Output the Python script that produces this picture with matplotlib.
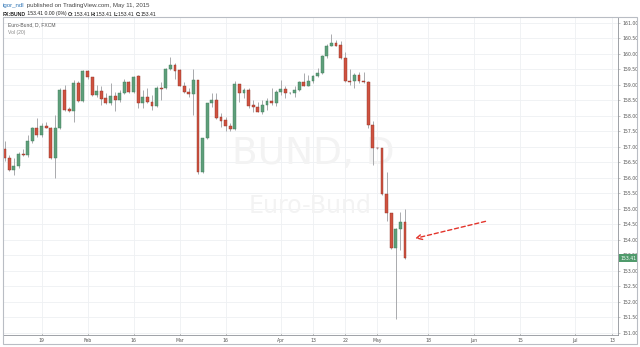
import matplotlib.pyplot as plt
import pandas as pd
import numpy as np
from matplotlib.patches import Rectangle

# daily OHLC, Euro-Bund, 7 Jan 2015 - 11 May 2015
o = [156.94, 156.65, 156.26, 156.39, 156.78, 156.74, 157.19, 157.60, 157.39, 157.68,
     157.62, 156.65, 157.60, 158.84, 158.21, 158.16, 159.07, 158.48, 159.46, 159.24,
     158.68, 158.81, 158.57, 158.41, 158.65, 158.52, 158.73, 159.09, 158.78, 159.29,
     158.41, 158.60, 158.46, 158.33, 158.89, 158.89, 159.52, 159.65, 159.48, 158.98,
     158.78, 158.70, 159.16, 156.20, 157.28, 158.41, 158.52, 157.95, 157.86, 157.69,
     157.58, 159.02, 158.73, 158.84, 158.35, 158.30, 158.12, 158.35, 158.48, 158.41,
     158.78, 158.86, 158.73, 158.75, 158.84, 159.09, 158.98, 159.11, 159.30, 159.38,
     159.94, 160.27, 160.35, 160.29, 159.86, 159.11, 159.11, 159.32, 159.13, 159.09,
     157.71, 156.96, 156.96, 155.48, 154.87, 153.74, 154.35, 154.58]
h = [157.19, 156.74, 156.65, 156.85, 156.93, 157.39, 157.65, 157.93, 157.76, 157.82,
     157.65, 158.03, 158.89, 159.00, 158.30, 159.16, 159.11, 159.48, 159.48, 159.27,
     159.00, 158.95, 158.73, 159.05, 158.78, 158.84, 159.19, 159.11, 159.30, 159.32,
     158.84, 158.89, 158.68, 158.95, 159.10, 159.54, 159.91, 159.70, 159.52, 159.09,
     158.89, 159.52, 159.16, 157.30, 158.43, 158.74, 158.73, 158.09, 157.98, 157.76,
     159.11, 159.02, 158.89, 158.89, 158.52, 158.46, 158.52, 158.57, 158.89, 158.84,
     159.16, 158.95, 158.78, 158.95, 159.11, 159.40, 159.32, 159.32, 159.54, 159.96,
     160.31, 160.64, 160.45, 160.40, 160.07, 159.51, 159.38, 159.43, 159.43, 159.11,
     157.84, 156.99, 156.96, 156.20, 154.87, 154.38, 154.90, 155.00]
l = [156.55, 156.22, 156.11, 156.31, 156.71, 156.69, 157.12, 157.33, 157.33, 157.60,
     156.61, 155.99, 157.58, 158.17, 158.12, 157.82, 158.46, 158.46, 159.19, 158.65,
     158.62, 158.35, 158.38, 158.35, 158.16, 158.46, 158.70, 158.73, 158.75, 158.25,
     158.25, 158.41, 158.19, 158.30, 158.52, 158.87, 159.48, 159.19, 158.95, 158.73,
     158.62, 158.03, 156.12, 156.15, 157.25, 158.30, 157.90, 157.65, 157.50, 157.50,
     157.55, 158.46, 158.57, 158.25, 158.14, 158.12, 158.05, 158.19, 158.35, 158.33,
     158.68, 158.59, 158.70, 158.62, 158.81, 158.95, 158.95, 159.06, 159.24, 159.35,
     159.88, 160.24, 160.24, 159.84, 159.09, 159.00, 158.91, 159.06, 159.06, 157.60,
     156.42, 156.93, 155.44, 154.61, 153.70, 151.45, 153.68, 153.38]
c = [156.65, 156.26, 156.39, 156.77, 156.74, 157.19, 157.60, 157.39, 157.68, 157.62,
     156.65, 157.60, 158.84, 158.19, 158.16, 159.07, 158.48, 159.46, 159.24, 158.68,
     158.81, 158.54, 158.41, 158.65, 158.52, 158.73, 159.09, 158.78, 159.27, 158.41,
     158.60, 158.46, 158.33, 158.89, 158.88, 159.52, 159.65, 159.46, 158.98, 158.78,
     158.70, 159.16, 156.20, 157.28, 158.41, 158.52, 157.93, 157.85, 157.69, 157.58,
     159.02, 158.73, 158.84, 158.33, 158.28, 158.12, 158.35, 158.48, 158.43, 158.78,
     158.86, 158.73, 158.75, 158.84, 159.09, 158.98, 159.11, 159.30, 159.38, 159.94,
     160.27, 160.35, 160.27, 159.86, 159.11, 159.09, 159.32, 159.11, 159.09, 157.71,
     156.96, 156.95, 155.47, 154.87, 153.74, 154.35, 154.58, 153.41]

tick_dates = ['2015-01-19', '2015-02-02', '2015-02-16', '2015-03-02', '2015-03-16', '2015-04-01',
              '2015-04-13', '2015-04-22', '2015-05-01', '2015-05-18', '2015-06-01', '2015-06-15',
              '2015-07-01', '2015-07-13']
tick_labels = ['19', 'Feb', '16', 'Mar', '16', 'Apr', '13', '22', 'May', '18', 'Jun', '15', 'Jul', '13']

# trading days (Good Friday closed)
days = pd.bdate_range('2015-01-07', '2015-07-20')
days = days[days != pd.Timestamp('2015-04-03')]
pos = {d: i for i, d in enumerate(days)}

o = np.array(o); h = np.array(h); l = np.array(l); c = np.array(c)
x = np.arange(len(c))
up = c >= o

fig = plt.figure(figsize=(6.4, 3.47), dpi=100)
fig.patch.set_facecolor('white')
ax = fig.add_axes([3/640, 12/347, 615/640, 318/347])

ax.vlines(x, l, h, color='#a9aaad', lw=0.7, zorder=2)
bottom = np.minimum(o, c)
height = np.maximum(np.abs(c - o), 0.02)
ax.bar(x[up], height[up], bottom=bottom[up], width=0.62, color='#5e9f7b',
       edgecolor='#3e7a58', lw=0.3, zorder=3)
ax.bar(x[~up], height[~up], bottom=bottom[~up], width=0.62, color='#cf5240',
       edgecolor='#8e3226', lw=0.3, zorder=3)

ax.set_xlim(-0.37, 133.3)
ax.set_ylim(150.935, 161.19)

xt = [pos[pd.Timestamp(d)] for d in tick_dates]
ax.set_xticks(xt)
ax.set_xticklabels(tick_labels)
ax.set_yticks(np.arange(151, 161.01, 0.5))
ax.yaxis.set_major_formatter(plt.FormatStrFormatter('%.2f'))
ax.yaxis.tick_right()
ax.tick_params(axis='both', labelsize=3.3, colors='#9a9a9a', labelcolor='#555555',
               length=1.5, width=0.4, pad=1.5)
ax.tick_params(axis='x', direction='in', pad=2.5)
ax.grid(color='#eef0f3', lw=0.6, zorder=0)
ax.set_axisbelow(True)
for s in ['top', 'left']:
    ax.spines[s].set_visible(False)
for s in ['right', 'bottom']:
    ax.spines[s].set_color('#8f9399')
    ax.spines[s].set_linewidth(0.6)

# watermark
ax.text(0.505, 0.57, 'BUND, D', transform=ax.transAxes, fontsize=27, color='#f3f3f3',
        ha='center', va='center', zorder=1)
ax.text(0.50, 0.405, 'Euro-Bund', transform=ax.transAxes, fontsize=17, color='#f3f3f3',
        ha='center', va='center', zorder=1)

# last price badge
ax.text(1.0045, c[-1], '153.41', transform=ax.get_yaxis_transform(), fontsize=3.3,
        color='white', ha='left', va='center', zorder=5, clip_on=False,
        bbox=dict(boxstyle='square,pad=0.35', fc='#4f9a6b', ec='none'))

# arrow
ax.annotate('', xy=(89.2, 154.05), xytext=(104.5, 154.6),
            arrowprops=dict(arrowstyle='->', ls=(0, (3, 2)), color='#e3342b', lw=1.0,
                            shrinkA=0, shrinkB=0))

# outer frame
fig.patches.append(Rectangle((3/640, 3/347), 634/640, 327/347, transform=fig.transFigure,
                             fill=False, ec='#b9bdc4', lw=0.8))

# header lines
t1 = fig.text(3/640, 1 - 6/347, 'igor_ndl', fontsize=4.4, color='#2e74b5', va='center',
              family='Liberation Sans')
ax.annotate(' published on TradingView.com, May 11, 2015', xy=(1, 0.5), xycoords=t1,
            va='center', fontsize=4.4, color='#444444', family='Liberation Sans',
            annotation_clip=False)

parts = [('FX:BUND', True), (' 153.41 0.00 (0%) ', False), ('O:', True), ('153.41 ', False),
         ('H:', True), ('153.41 ', False), ('L:', True), ('153.41 ', False),
         ('C:', True), ('153.41', False)]
prev = fig.text(3/640, 1 - 14/347, '', fontsize=3.7, va='center')
for s, bold in parts:
    prev = ax.annotate(s, xy=(1, 0.5), xycoords=prev, va='center', fontsize=3.7,
                       color='#222222', fontweight='bold' if bold else 'normal',
                       family='Liberation Sans', annotation_clip=False)

ax.text(0.008, 0.975, 'Euro-Bund, D, FXCM', transform=ax.transAxes, fontsize=3.6,
        color='#555555', va='center', family='Liberation Sans')
ax.text(0.008, 0.95, 'Vol (20)', transform=ax.transAxes, fontsize=3.6,
        color='#888888', va='center', family='Liberation Sans')

fig.savefig('out.png', dpi=100)
